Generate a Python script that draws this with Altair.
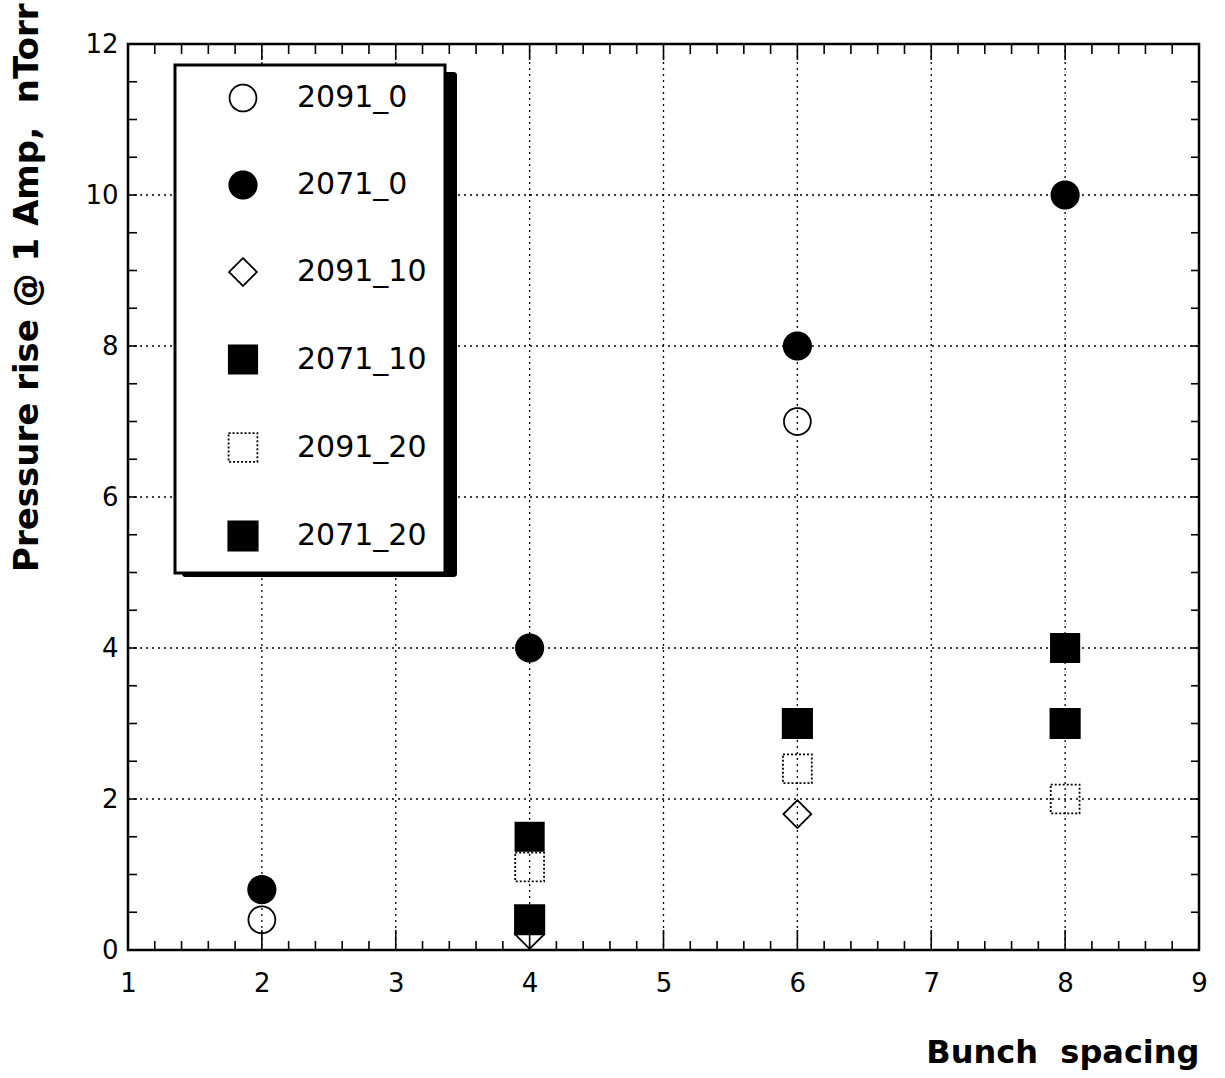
import altair as alt
import pandas as pd

# Measured pressure rise per run, grouped by bunch spacing
series_names = ["2091_0", "2071_0", "2091_10", "2071_10", "2091_20", "2071_20"]

s2091_0_x = [2, 6]
s2091_0_y = [0.4, 7.0]
s2071_0_x = [2, 4, 6, 8]
s2071_0_y = [0.8, 4.0, 8.0, 10.0]
s2091_10_x = [4, 6]
s2091_10_y = [0.2, 1.8]
s2071_10_x = [4, 6, 8]
s2071_10_y = [1.5, 3.0, 4.0]
s2091_20_x = [4, 6, 8]
s2091_20_y = [1.1, 2.4, 2.0]
s2071_20_x = [4, 6, 8]
s2071_20_y = [0.4, 3.0, 3.0]

x_labels = [1, 2, 3, 4, 5, 6, 7, 8, 9]
y_labels = [0, 2, 4, 6, 8, 10, 12]
x_grid = [2, 3, 4, 5, 6, 7, 8]
y_grid = [2, 4, 6, 8, 10]

W, H = 1071, 906

rows = []
for name, xs_, ys_ in [
    ("2091_0", s2091_0_x, s2091_0_y),
    ("2071_0", s2071_0_x, s2071_0_y),
    ("2091_10", s2091_10_x, s2091_10_y),
    ("2071_10", s2071_10_x, s2071_10_y),
    ("2091_20", s2091_20_x, s2091_20_y),
    ("2071_20", s2071_20_x, s2071_20_y),
]:
    for xv, yv in zip(xs_, ys_):
        rows.append({"series": name, "spacing": xv, "pressure": yv})
df = pd.DataFrame(rows)

# tick positions for the inward-pointing ticks on all four sides
x_minor = [round(1 + 0.2 * i, 1) for i in range(1, 40) if i % 5 != 0]
x_major = [2, 3, 4, 5, 6, 7, 8]
y_minor = [round(0.5 * i, 1) for i in range(1, 24)]

xs = alt.Scale(domain=[1, 9], nice=False, zero=False)
ys = alt.Scale(domain=[0, 12], nice=False, zero=False)

font = "DejaVu Sans"
NBSP = "\u00a0"

# empty layer that carries the axis labels and titles
axes_df = pd.DataFrame({"spacing": [1.0], "pressure": [0.0]})

grid_x = (
    alt.Chart(pd.DataFrame({"g": x_grid}))
    .mark_rule(color="black", strokeWidth=1.3, strokeDash=[2, 4])
    .encode(x=alt.X("g:Q", scale=xs), y=alt.value(0), y2=alt.value(H))
)
grid_y = (
    alt.Chart(pd.DataFrame({"g": y_grid}))
    .mark_rule(color="black", strokeWidth=1.3, strokeDash=[2, 4])
    .encode(y=alt.Y("g:Q", scale=ys), x=alt.value(0), x2=alt.value(W))
)

axes = (
    alt.Chart(axes_df)
    .mark_point(opacity=0)
    .encode(
        x=alt.X(
            "spacing:Q",
            scale=xs,
            axis=alt.Axis(
                values=x_labels,
                format="d",
                grid=False,
                ticks=False,
                domain=False,
                labelFont=font,
                labelFontSize=26,
                labelColor="black",
                labelPadding=20,
                labelFlush=False,
                title="Bunch" + NBSP + NBSP + "spacing",
                titleFont=font,
                titleFontSize=32,
                titleFontWeight="bold",
                titleColor="black",
                titleAnchor="end",
                titleAlign="right",
                titleBaseline="alphabetic",
                titleX=W,
                titleY=112,
            ),
        ),
        y=alt.Y(
            "pressure:Q",
            scale=ys,
            axis=alt.Axis(
                values=y_labels,
                format="d",
                grid=False,
                ticks=False,
                domain=False,
                labelFont=font,
                labelFontSize=26,
                labelColor="black",
                labelPadding=10,
                labelFlush=False,
                title="Pressure rise @ 1 Amp," + NBSP + NBSP + "nTorr",
                titleFont=font,
                titleFontSize=34,
                titleFontWeight="bold",
                titleColor="black",
                titleAngle=-90,
                titleAlign="right",
                titleBaseline="alphabetic",
                titleX=-91,
                titleY=-41,
            ),
        ),
    )
)


def tick_layer(values, field_axis, p0, p1, width=1.6):
    d = pd.DataFrame({"t": values})
    if field_axis == "x":
        enc = dict(x=alt.X("t:Q", scale=xs), y=alt.value(p0), y2=alt.value(p1))
    else:
        enc = dict(y=alt.Y("t:Q", scale=ys), x=alt.value(p0), x2=alt.value(p1))
    return alt.Chart(d).mark_rule(color="black", strokeWidth=width).encode(**enc)


ticks = [
    tick_layer(x_minor, "x", H, H - 9),
    tick_layer(x_major, "x", H, H - 20),
    tick_layer(x_minor, "x", 0, 10),
    tick_layer(x_major, "x", 0, 16),
    tick_layer(y_minor, "y", 0, 9),
    tick_layer(y_minor, "y", W, W - 8),
]

# drop shadow behind the legend box
shadow = (
    alt.Chart(pd.DataFrame({"s": [0]}))
    .mark_rect(color="black", cornerRadius=3)
    .encode(x=alt.value(54), x2=alt.value(329), y=alt.value(28), y2=alt.value(533))
)

legend_cfg = alt.Legend(title=None)

points = (
    alt.Chart(df)
    .mark_point(strokeWidth=1.8, opacity=1)
    .encode(
        x=alt.X("spacing:Q", scale=xs),
        y=alt.Y("pressure:Q", scale=ys),
        shape=alt.Shape(
            "series:N",
            scale=alt.Scale(
                domain=series_names,
                range=["circle", "circle", "diamond", "square", "square", "square"],
            ),
            legend=legend_cfg,
        ),
        fill=alt.Fill(
            "series:N",
            scale=alt.Scale(
                domain=series_names,
                range=["transparent", "black", "transparent", "black", "transparent", "black"],
            ),
            legend=legend_cfg,
        ),
        stroke=alt.Stroke(
            "series:N",
            scale=alt.Scale(domain=series_names, range=["black"] * 6),
            legend=legend_cfg,
        ),
        size=alt.Size(
            "series:N",
            scale=alt.Scale(domain=series_names, range=[720, 860, 600, 780, 700, 780]),
            legend=legend_cfg,
        ),
        strokeDash=alt.StrokeDash(
            "series:N",
            scale=alt.Scale(
                domain=series_names,
                range=[[1, 0], [1, 0], [1, 0], [1, 0], [2, 2], [1, 0]],
            ),
            legend=legend_cfg,
        ),
    )
)

chart = (
    alt.layer(grid_x, grid_y, axes, *ticks, shadow, points)
    .properties(
        width=W,
        height=H,
        padding={"left": 128, "top": 44, "right": 26, "bottom": 128},
        autosize=alt.AutoSizeParams(type="none"),
        background="white",
    )
    .configure_view(stroke="black", strokeWidth=2.5)
    .configure_legend(
        orient="none",
        legendX=47,
        legendY=21,
        padding=18,
        rowPadding=51,
        symbolOffset=34,
        labelOffset=38,
        fillColor="white",
        strokeColor="black",
        strokeWidth=3,
        cornerRadius=0,
        labelFont=font,
        labelFontSize=30,
        labelColor="black",
        symbolStrokeWidth=1.8,
    )
)

chart.save("out.html", embed_options={"renderer": "svg", "actions": False})
